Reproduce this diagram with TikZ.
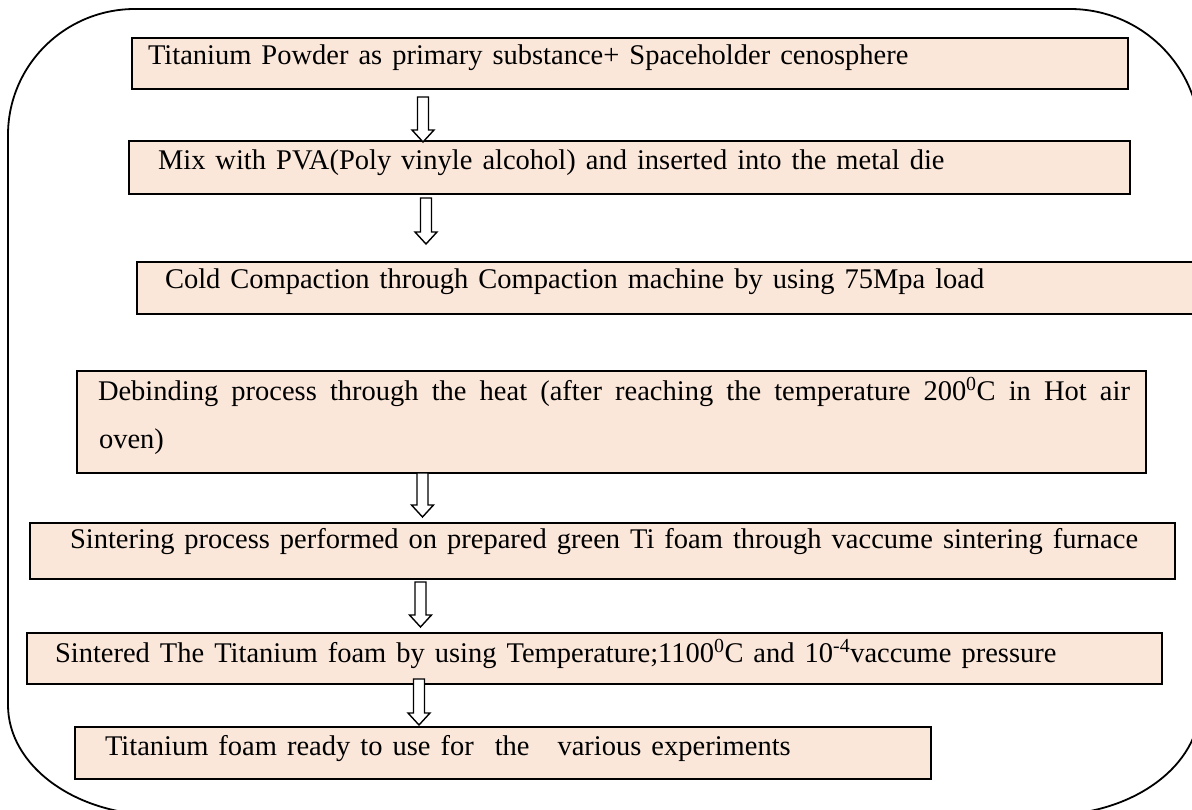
\documentclass[tikz,border=0pt]{standalone}
\usepackage{fontspec}
\setmainfont{Liberation Serif}
\usetikzlibrary{calc}
\definecolor{peach}{RGB}{251,231,218}
\newcommand{\txtfont}{\fontsize{28.5}{48}\selectfont\spaceskip 10pt plus 6pt minus 1pt\relax}
\tikzset{
  stepbox/.style={draw=black, line width=2pt, fill=peach, anchor=north west, inner sep=0pt, outer sep=0pt},
  txt/.style={anchor=base west, inner sep=0pt, outer sep=0pt, font=\txtfont},
  outline/.style={draw=black, line width=1.8pt},
  blk/.style={draw=black, line width=1.4pt, fill=white, line join=miter},
}
\newcommand{\blockarrow}[2]{%
  \draw[blk] ($(#1)+(-5.5,0)$) -- ($(#2)+(-5.5,-12)$) -- ($(#2)+(-11,-12)$) -- (#2)
    -- ($(#2)+(11,-12)$) -- ($(#2)+(5.5,-12)$) -- ($(#1)+(5.5,0)$) -- cycle;}
\begin{document}
\begin{tikzpicture}[x=1pt,y=-1pt]
\useasboundingbox (0,0) rectangle (1192,810);
\clip (0,0) rectangle (1192,810);
% outer frame
\draw[outline] (8,135) arc[start angle=180, end angle=90, x radius=127pt, y radius=126pt]
  -- (1070,9) arc[start angle=90, end angle=0, radius=130pt]
  -- (1200,705) arc[start angle=0, end angle=-90, x radius=150pt, y radius=110pt]
  -- (158,815) arc[start angle=270, end angle=180, x radius=150pt, y radius=110pt]
  -- cycle;
% boxes
\node[stepbox, minimum width=996pt, minimum height=51pt] (b1) at (132,38) {};
\node[stepbox, minimum width=1001pt, minimum height=53pt] (b2) at (129,141) {};
\node[stepbox, minimum width=1068pt, minimum height=52pt] (b3) at (137,262) {};
\node[stepbox, minimum width=1069pt, minimum height=102pt] (b4) at (77,371) {};
\node[stepbox, minimum width=1145pt, minimum height=56pt] (b5) at (30,523) {};
\node[stepbox, minimum width=1135pt, minimum height=51pt] (b6) at (27,633) {};
\node[stepbox, minimum width=856pt, minimum height=52pt] (b7) at (75,727) {};
% texts
\node[txt] (t1) at (148,65) {Titanium Powder as primary substance+ Spaceholder cenosphere};
\node[txt] (t2) at (158,170) {Mix with PVA(Poly vinyle alcohol) and inserted into the metal die};
\node[txt] (t3) at (165,289) {Cold Compaction through Compaction machine by using 75Mpa load};
\node[txt] (t4) at (98,400) {\hbox to 1032pt{Debinding process through the heat (after reaching the temperature 200\textsuperscript{0}C in Hot air}};
\node[txt] (t4b) at (99,448) {oven)};
\node[txt] (t5) at (70,548) {Sintering process performed on prepared green Ti foam through vaccume sintering furnace};
\node[txt] (t6) at (55,662) {Sintered The Titanium foam by using Temperature;1100\textsuperscript{0}C and 10\textsuperscript{-4}vaccume pressure};
\node[txt] (t7) at (105,755) {Titanium foam ready to use for\hspace{21pt}the\hspace{28pt}various experiments};
% arrows
\coordinate (a1s) at (423,97);   \coordinate (a1e) at (423,142);
\coordinate (a2s) at (426,198);  \coordinate (a2e) at (426,244);
\coordinate (a3s) at (422.5,473);\coordinate (a3e) at (422.5,517);
\coordinate (a4s) at (420.5,582);\coordinate (a4e) at (420.5,627);
\coordinate (a5s) at (419,679);  \coordinate (a5e) at (419,725);
\blockarrow{a1s}{a1e}
\blockarrow{a2s}{a2e}
\blockarrow{a3s}{a3e}
\blockarrow{a4s}{a4e}
\blockarrow{a5s}{a5e}
\end{tikzpicture}
\end{document}
